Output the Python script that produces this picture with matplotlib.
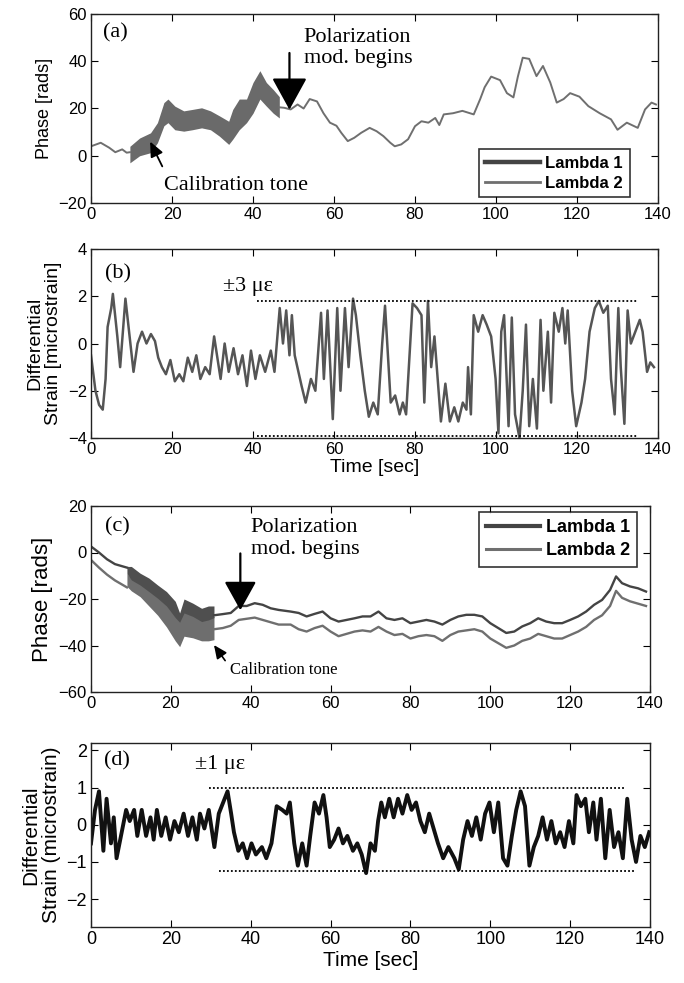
import matplotlib
matplotlib.use("Agg")
import matplotlib.pyplot as plt
from matplotlib.lines import Line2D

SANS = ["Liberation Sans", "DejaVu Sans"]
SERIF = ["Liberation Serif", "DejaVu Serif"]
plt.rcParams["font.family"] = SANS

# ---------------- data: panel (a) ----------------
a_pre_t = [0, 2.4, 4.5, 6, 7.7, 8.8, 9.6]
a_pre_v = [4, 5.5, 3.4, 1.5, 2.7, 1.3, 1.5]
a_band_t = [9.6, 12, 14.7, 16.4, 18, 19, 20.7, 22.9, 25, 27.3, 29.5, 31.7, 34, 35,
            36.6, 38.4, 40, 41.7, 43.3, 45, 46.5]
a_band_hi = [4, 7.5, 9.7, 14, 22.5, 24, 21, 19, 19.6, 20.3, 19, 16.9, 14.6, 19.6,
             24, 24, 31, 36, 31, 28, 25]
a_band_lo = [-3, 0, 1.3, 5.5, 12.7, 14, 11, 10.4, 11, 11.8, 11, 8.3, 4.8, 7,
             11, 14, 18, 24, 21, 18, 16]
a_post_t = [46.5, 47.7, 49.3, 51, 52.5, 54, 55.8, 57.4, 59, 60.6, 61.8, 63.4, 65, 66.7,
            68.8, 70.5, 72.2, 73.9, 75, 76.6, 78.3, 80, 81.6, 83.3, 85, 86, 87.1, 89.4,
            91.7, 94.5, 96.1, 97.2, 98.8, 101, 102.7, 104.3, 105.4, 106.6, 108.2, 110,
            111.6, 113.4, 115, 116.7, 118.3, 120.6, 122.8, 125.6, 128.4, 130, 132.3,
            135, 136.8, 138.4, 139.5]
a_post_v = [20.5, 20.3, 19.6, 21.7, 20, 24, 23, 18, 14, 12.7, 9.7, 6.2, 7.6, 9.7,
            11.8, 10.4, 8.3, 5.5, 4, 4.8, 7, 12.5, 14.6, 14, 16, 13, 17.5, 18,
            19, 17.5, 24, 29, 33.5, 32, 26.5, 24.7, 33.5, 41.5, 41, 33.7,
            38, 31, 22.5, 24, 26.5, 25, 21, 18, 15.4, 11, 14,
            11.8, 19.6, 22.5, 21.7]

# ---------------- data: panel (b) ----------------
b_t = [0, 1.1, 2.0, 2.9, 3.6, 4.1, 5.0, 5.4, 6.5, 7.2,
       8.5, 9.4, 10.5, 11.5, 12.6, 13.7, 14.8, 15.8, 16.6, 17.5,
       18.5, 19.6, 20.7, 21.8, 22.8, 23.9, 25.0, 26.0, 27.0, 28.2,
       29.3, 30.4, 31.2, 32.0, 33.0, 34.0, 35.2, 36.3, 37.4, 38.5,
       39.5, 40.6, 41.7, 43.0, 44.4, 45.3, 46.6, 47.4, 48.2, 49.0,
       49.6, 50.3, 52.0, 53.0, 54.3, 55.4, 56.8, 57.5, 58.4, 59.7,
       60.8, 61.6, 62.7, 63.6, 64.7, 65.4, 66.5, 67.6, 68.6, 69.7,
       70.8, 71.9, 72.6, 74.0, 75.1, 76.2, 77.0, 77.8, 79.4, 80.5,
       81.6, 82.3, 83.2, 84.0, 84.8, 86.4, 87.5, 88.6, 89.7, 90.7,
       91.8, 92.7, 93.1, 93.8, 94.5, 95.6, 96.7, 97.7, 98.8, 99.9,
       100.6, 101.3, 102.0, 103.1, 103.9, 104.7, 105.8, 106.6, 107.4, 108.2,
       109.1, 110.1, 111.0, 111.7, 112.8, 113.6, 114.4, 115.5, 116.4, 117.1,
       117.7, 118.8, 119.8, 121.1, 122.0, 123.1, 124.4, 125.4, 126.5, 127.6,
       128.4, 129.3, 130.2, 130.8, 131.7, 132.5, 133.3, 134.4, 135.5, 136.2,
       137.3, 138.1, 139.0]
b_v = [-0.5, -2.0, -2.6, -2.8, -1.5, 0.7, 1.5, 2.1, 0.3, -1.0,
       1.9, 0.5, -1.2, 0.0, 0.5, 0.0, 0.4, 0.1, -0.6, -1.0,
       -1.3, -0.7, -1.6, -1.3, -1.6, -0.6, -1.2, -0.5, -1.5, -1.0,
       -1.3, 0.3, -0.6, -1.5, 0.0, -1.2, -0.2, -1.3, -0.5, -1.8,
       -0.3, -1.5, -0.5, -1.2, -0.3, -1.2, 1.5, 0.0, 1.4, -0.5,
       1.2, -0.5, -1.8, -2.5, -1.5, -2.0, 1.3, -1.5, 1.4, -3.2,
       1.5, -2.0, 1.5, -1.0, 1.9, 1.2, -0.5, -2.0, -3.1, -2.5,
       -3.0, 0.0, 1.6, -2.5, -2.2, -3.0, -2.5, -3.0, 1.7, 1.5,
       1.2, -2.5, 1.8, -1.0, 0.3, -3.3, -1.7, -3.3, -2.7, -3.3,
       -2.5, -2.8, -1.0, -3.0, 1.2, 0.5, 1.2, 0.8, 0.3, -1.5,
       -3.8, 0.5, 1.2, -3.5, 1.1, -3.0, -4.0, -2.0, 0.8, -3.5,
       -1.5, -3.6, 1.0, -2.0, 0.5, -2.5, 1.3, 0.5, 1.5, 0.0,
       1.4, -2.0, -3.5, -2.5, -1.5, 0.5, 1.5, 1.8, 1.3, 1.6,
       -1.5, -3.0, 1.5, -1.0, -3.4, 1.4, 0.0, 0.5, 1.0, 0.5,
       -1.2, -0.8, -1.0]
b_lim_levels = [1.8, -3.9]
b_lim_start = [41, 41]
b_lim_end = [135, 135]

# ---------------- data: panel (c) ----------------
c_pre_t = [0, 2, 4, 6, 8, 9]
c1_pre_v = [2.6, 0, -2.9, -5, -6, -6.5]
c2_pre_v = [-3.2, -6.5, -9.5, -12, -14, -15]
c_band_t = [9, 10.1, 12.3, 14.5, 16.7, 18.9, 21.1, 22.2, 23.3, 25.5, 27.7, 29.4, 30.8]
c1_band_hi = [-6, -6, -8.9, -11, -14, -16.8, -21, -26, -20, -21.8, -24, -23, -23]
c1_band_lo = [-9, -11.8, -14, -16.8, -19.7, -23, -28, -30, -26, -27.5, -29.7, -29, -28]
c2_band_hi = [-9, -11, -13, -15.5, -18, -21, -25, -29, -24.7, -26, -28.3, -27.5, -27.5]
c2_band_lo = [-14.6, -16.5, -19, -23, -27, -32, -38, -40.5, -36, -36.7, -38, -38, -37.5]
c_post_t = [30.8, 33, 35, 37, 39, 41, 43, 45, 47, 50,
            52, 54, 56, 58, 60, 62, 64, 66, 68, 70,
            72, 74, 76, 78, 80, 82, 84, 86, 88, 90,
            92, 94, 96, 98, 100, 102, 104, 106, 108, 110,
            112, 114, 116, 118, 120, 122, 124, 126, 128, 130,
            131.5, 133, 135, 137, 139]
c1_post_v = [-27, -26.5, -26, -23, -23, -21.8, -22.5, -24, -24.7, -25.4,
             -26, -27.5, -26.4, -25.4, -28.3, -29.7, -29, -28.3, -27.5, -27.5,
             -25.4, -28.3, -29, -28.3, -30.4, -29.7, -29, -29.7, -31, -29,
             -27.5, -26.8, -26.8, -27.5, -30.4, -32.5, -34.6, -34, -31.8, -30.4,
             -28.3, -29.7, -30.4, -30.4, -29, -27.5, -25.4, -22.5, -20.4, -16.1,
             -10.3, -13.2, -14.6, -15.4, -16.8]
c2_post_v = [-33, -32.5, -31.5, -29, -28.5, -28, -29, -30, -31, -31,
             -33, -34, -32.5, -31.5, -34, -36, -35, -34, -33.5, -34,
             -32, -34, -35.5, -35, -37, -36, -35.5, -36, -38, -35.5,
             -34, -33.5, -33, -34, -37, -39, -41, -40, -38, -37,
             -35, -36, -37, -37, -35.5, -34, -32, -29, -27, -23,
             -16.5, -19.5, -21, -22, -23]

# ---------------- data: panel (d) ----------------
d_t = [0, 1, 2, 3.1, 3.9, 5, 5.7, 6.4, 7.5, 8.8, 9.7, 10.8, 11.6, 12.7, 13.8, 14.9,
       15.7, 16.5, 17.6, 18.7, 19.8, 20.9, 22, 23.2, 24.3, 25.4, 26.5, 27.3, 28.4,
       29.5, 30.9, 32, 33.1, 34.2, 35.1, 35.8, 36.9, 38, 39.1, 40.2, 41.3, 42.8,
       43.9, 45.2, 46.5, 47.9, 49, 49.8, 50.9, 51.8, 52.9, 54, 54.9, 56, 57.1,
       58.2, 59, 59.8, 60.9, 62, 63.1, 64.2, 65.6, 66.7, 67.8, 68.9, 70, 71.1,
       71.9, 72.7, 73.6, 74.7, 75.8, 76.9, 78, 79.2, 80.3, 81.4, 82.5, 83.6, 84.7,
       85.8, 86.9, 88.2, 89.5, 91, 92.1, 93.2, 94.3, 95.4, 96.5, 97.6, 98.7, 99.8,
       100.9, 102, 103.2, 104.3, 105.4, 106.5, 107.6, 108.7, 109.8, 110.9, 112,
       113.1, 114.2, 115.3, 116.4, 117.5, 118.6, 119.7, 120.8, 121.6, 122.7,
       123.8, 124.7, 125.8, 126.6, 127.7, 128.8, 129.9, 131, 132.1, 133.2, 134.3,
       135.4, 136.5, 137.6, 138.7, 139.8]
d_v = [-0.5, 0.4, 0.9, -0.7, 0.7, -0.5, 0.2, -0.9, -0.3, 0.4, 0.1, 0.4, -0.3, 0.4,
       -0.3, 0.2, -0.4, 0.4, -0.3, 0.2, -0.4, 0.1, -0.2, 0.3, -0.3, 0.2, -0.4, 0.3,
       -0.1, 0.4, -0.6, 0.3, 0.6, 0.9, 0.3, -0.2, -0.7, -0.5, -0.9, -0.5, -0.8, -0.6,
       -0.9, -0.5, 0.5, 0.4, 0.3, 0.6, -0.5, -1.1, -0.5, -1.1, -0.3, 0.6, 0.3, 0.8,
       0.2, -0.6, -0.4, -0.1, -0.5, -0.3, -0.7, -0.5, -0.8, -1.3, -0.5, -0.7, 0.1,
       0.6, 0.2, 0.7, 0.2, 0.7, 0.3, 0.8, 0.4, 0.6, 0.1, -0.2, 0.3, -0.1, -0.5, -0.9,
       -0.6, -0.9, -1.2, -0.4, 0.1, -0.3, 0.2, -0.4, 0.3, 0.6, -0.2, 0.6, -0.9, -1.1,
       -0.3, 0.4, 0.9, 0.5, -1.1, -0.6, -0.3, 0.2, -0.4, 0.1, -0.5, -0.2, -0.6, 0.1,
       -0.5, 0.8, 0.5, 0.7, -0.2, 0.6, -0.4, 0.7, -0.9, 0.4, -0.6, -0.2, -0.9, 0.7,
       -0.4, -1.0, -0.3, -0.6, -0.2]
d_lim_levels = [1.0, -1.25]
d_lim_start = [29.5, 32]
d_lim_end = [134, 136]

x_ticks = [0, 20, 40, 60, 80, 100, 120, 140]

# ---------------- figure ----------------
fig = plt.figure(figsize=(6.84, 9.83), dpi=100)
W, H = 684.0, 983.0


def make_ax(l, r, t, b):
    return fig.add_axes([l / W, 1 - b / H, (r - l) / W, (b - t) / H])


axa = make_ax(91, 658, 14, 203)
axb = make_ax(91, 658, 249, 438)
axc = make_ax(91, 650, 506, 692)
axd = make_ax(91, 650, 743, 927)


def style(ax, ylim, yticks, fs=12):
    ax.set_xlim(0, 140)
    ax.set_ylim(*ylim)
    ax.set_xticks(x_ticks)
    ax.set_yticks(yticks)
    ax.tick_params(direction="in", top=True, right=True, length=5, width=0.8,
                   labelsize=fs, pad=3)
    for s in ax.spines.values():
        s.set_linewidth(1.0)
        s.set_color("#222222")


L1C = "#444444"
L2C = "#6f6f6f"

# ---- (a)
style(axa, (-20, 60), [-20, 0, 20, 40, 60])
axa.fill_between(a_band_t, a_band_lo, a_band_hi, color="#6a6a6a", lw=0)
axa.plot(a_pre_t, a_pre_v, color=L2C, lw=1.4)
axa.plot(a_post_t, a_post_v, color=L2C, lw=1.4)
axa.set_ylabel("Phase [rads]", fontsize=13, labelpad=4)
axa.text(3, 52, "(a)", family=SERIF, fontsize=16, va="center")
axa.text(52.5, 45.5, "Polarization\nmod. begins", family=SERIF, fontsize=16,
         va="center", ha="left", linespacing=1.15)
axa.annotate("", xy=(49, 19.5), xytext=(49, 43.5),
             arrowprops=dict(arrowstyle="-|>,head_length=1.0,head_width=0.55",
                             color="black", lw=1.6, mutation_scale=20,
                             shrinkA=0, shrinkB=0))
axa.text(18, -12.5, "Calibration tone", family=SERIF, fontsize=16, va="center")
axa.annotate("", xy=(14.6, 6), xytext=(17.6, -4.5),
             arrowprops=dict(arrowstyle="-|>,head_length=0.45,head_width=0.2",
                             color="black", lw=1.3, mutation_scale=20,
                             shrinkA=0, shrinkB=0))
hA = [Line2D([], [], color=L1C, lw=3.2), Line2D([], [], color=L2C, lw=2.0)]
leg = axa.legend(hA, ["Lambda 1", "Lambda 2"], loc="lower right",
                 bbox_to_anchor=(0.95, 0.03), prop=dict(family=SANS, weight="bold", size=12),
                 frameon=True, fancybox=False, edgecolor="black", handlelength=3.3,
                 borderpad=0.4, labelspacing=0.3, handletextpad=0.3, borderaxespad=0)
leg.get_frame().set_linewidth(1.2)

# ---- (b)
style(axb, (-4, 4), [-4, -2, 0, 2, 4])
axb.plot(b_t, b_v, color="#555555", lw=1.8)
for lvl, s, e in zip(b_lim_levels, b_lim_start, b_lim_end):
    axb.plot([s, e], [lvl, lvl], color="black", lw=1.3, ls=(0, (1, 1.2)))
axb.set_ylabel("Differential\nStrain [microstrain]", fontsize=14, linespacing=1.1,
               labelpad=4)
axb.set_xlabel("Time [sec]", fontsize=14, labelpad=1)
axb.text(3.4, 2.95, "(b)", family=SERIF, fontsize=16, va="center")
axb.text(32.5, 2.4, "±3 με", family=SERIF, fontsize=16, va="center")

# ---- (c)
style(axc, (-60, 20), [-60, -40, -20, 0, 20])
axc.fill_between(c_band_t, c2_band_lo, c2_band_hi, color="#6e6e6e", lw=0)
axc.fill_between(c_band_t, c1_band_lo, c1_band_hi, color="#4f4f4f", lw=0)
axc.plot(c_pre_t, c1_pre_v, color=L1C, lw=1.7)
axc.plot(c_pre_t, c2_pre_v, color=L2C, lw=1.7)
axc.plot(c_post_t, c1_post_v, color=L1C, lw=1.7)
axc.plot(c_post_t, c2_post_v, color=L2C, lw=1.7)
axc.set_ylabel("Phase [rads]", fontsize=16, labelpad=4)
axc.text(3.5, 11, "(c)", family=SERIF, fontsize=16, va="center")
axc.text(40, 6, "Polarization\nmod. begins", family=SERIF, fontsize=16,
         va="center", ha="left", linespacing=1.15)
axc.annotate("", xy=(37.4, -24.8), xytext=(37.4, -0.4),
             arrowprops=dict(arrowstyle="-|>,head_length=0.9,head_width=0.5",
                             color="black", lw=1.6, mutation_scale=20,
                             shrinkA=0, shrinkB=0))
axc.text(34.8, -50.5, "Calibration tone", family=SERIF, fontsize=12, va="center")
axc.annotate("", xy=(30.8, -39.8), xytext=(33.6, -46.5),
             arrowprops=dict(arrowstyle="-|>,head_length=0.4,head_width=0.18",
                             color="black", lw=1.2, mutation_scale=20,
                             shrinkA=0, shrinkB=0))
hC = [Line2D([], [], color=L1C, lw=3.0), Line2D([], [], color=L2C, lw=2.2)]
legc = axc.legend(hC, ["Lambda 1", "Lambda 2"], loc="upper right",
                  bbox_to_anchor=(0.977, 0.968), prop=dict(family=SANS, weight="bold", size=13),
                  frameon=True, fancybox=False, edgecolor="black", handlelength=3.0,
                  borderpad=0.4, labelspacing=0.35, handletextpad=0.3, borderaxespad=0)
legc.get_frame().set_linewidth(1.2)

# ---- (d)
style(axd, (-2.75, 2.2), [-2, -1, 0, 1, 2], fs=13)
axd.plot(d_t, d_v, color="#111111", lw=2.8)
for lvl, s, e in zip(d_lim_levels, d_lim_start, d_lim_end):
    axd.plot([s, e], [lvl, lvl], color="black", lw=1.3, ls=(0, (1, 1.2)))
axd.set_ylabel("Differential\nStrain (microstrain)", fontsize=15, linespacing=1.1,
               labelpad=4)
axd.set_xlabel("Time [sec]", fontsize=15, labelpad=2)
axd.text(3.3, 1.72, "(d)", family=SERIF, fontsize=16, va="center")
axd.text(26, 1.62, "±1 με", family=SERIF, fontsize=16, va="center")

fig.savefig("out.png", dpi=100)
